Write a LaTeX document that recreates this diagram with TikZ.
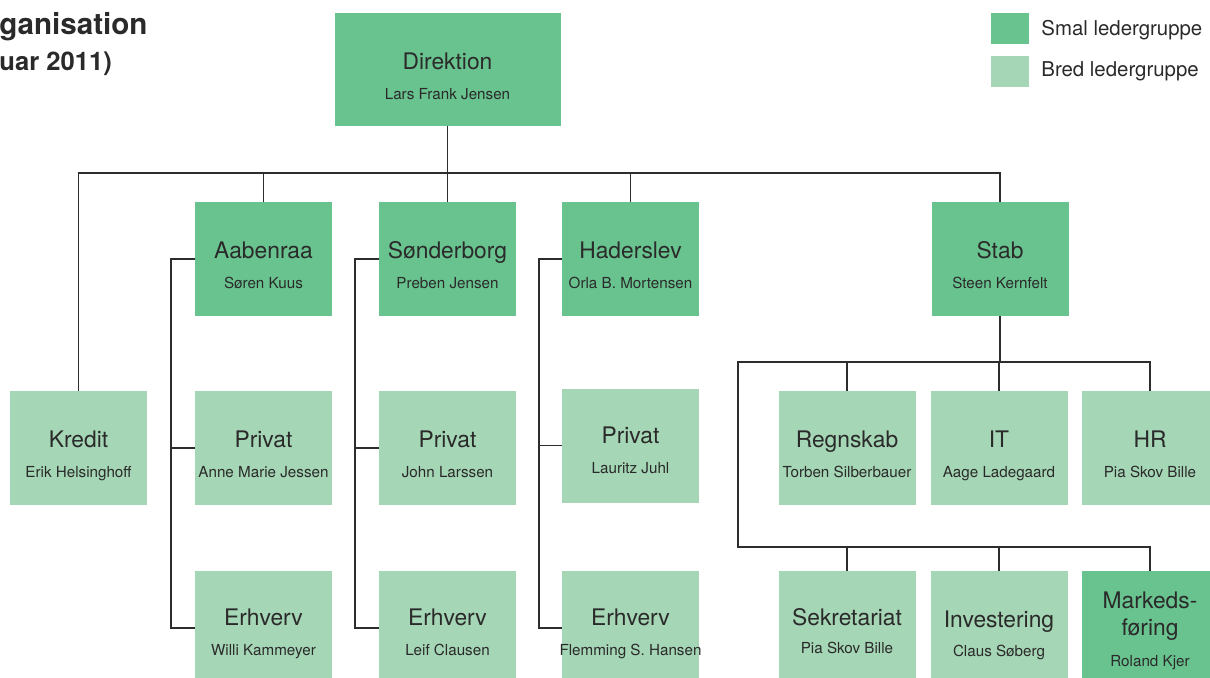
\documentclass[tikz,border=0pt]{standalone}
\usepackage{fontspec}
\setmainfont{TeX Gyre Heros}
\definecolor{smal}{RGB}{105,195,143}
\definecolor{bred}{RGB}{165,214,181}
\definecolor{linegray}{RGB}{45,45,45}
\definecolor{txtgray}{RGB}{42,42,42}
\tikzset{
  box/.style={inner sep=0pt, outer sep=0pt, minimum width=68.5pt, minimum height=57pt},
  smalbox/.style={box, fill=smal},
  bredbox/.style={box, fill=bred},
  ttl/.style={anchor=base, inner sep=0pt, text=txtgray, font=\fontsize{11.4}{13}\selectfont},
  nm/.style={anchor=base, inner sep=0pt, text=txtgray, font=\fontsize{7.6}{9}\selectfont},
  conn/.style={draw=linegray, line width=0.65pt},
}

\begin{document}
\begin{tikzpicture}[x=0.5pt,y=-0.5pt]
\useasboundingbox (0,0) rectangle (1210,677);
\clip (0,0) rectangle (1210,677);
% title and legend
\node[anchor=base west, inner sep=0pt, text=txtgray, font=\bfseries\fontsize{14.8}{17}\selectfont] (title) at (-1,34) {ganisation};
\node[anchor=base west, inner sep=0pt, text=txtgray, font=\bfseries\fontsize{12.8}{15}\selectfont] (subtitle) at (-1,70) {uar 2011)};
\node[fill=smal, inner sep=0pt, minimum width=19pt, minimum height=15.5pt] (legsmal) at (1010,28.5) {};
\node[fill=bred, inner sep=0pt, minimum width=19pt, minimum height=15.5pt] (legbred) at (1010,71.5) {};
\node[anchor=base west, inner sep=0pt, text=txtgray, font=\fontsize{10.2}{12}\selectfont] (legsmal-t) at (1041,35) {Smal ledergruppe};
\node[anchor=base west, inner sep=0pt, text=txtgray, font=\fontsize{10.2}{12}\selectfont] (legbred-t) at (1041,76) {Bred ledergruppe};

% boxes
\node[smalbox, minimum width=113pt, minimum height=56.5pt] (dir) at (447.5,69.5) {};
\node[smalbox] (aab) at (263.5,259) {};
\node[smalbox] (son) at (447.5,259) {};
\node[smalbox] (had) at (630.5,259) {};
\node[smalbox] (stab) at (1000,259) {};
\node[bredbox] (kred) at (78.5,448) {};
\node[bredbox] (aabp) at (263.5,448) {};
\node[bredbox] (sonp) at (447.5,448) {};
\node[bredbox] (hadp) at (630.5,445.5) {};
\node[bredbox] (aabe) at (263.5,628) {};
\node[bredbox] (sone) at (447.5,628) {};
\node[bredbox] (hade) at (630.5,628) {};
\node[bredbox] (regn) at (847,448) {};
\node[bredbox] (it) at (999,448) {};
\node[bredbox] (hr) at (1150,448) {};
\node[bredbox] (sek) at (847,628) {};
\node[bredbox] (inv) at (999,628) {};
\node[smalbox] (mark) at (1150,628) {};

% texts
\node[ttl] (dir-t) at ([yshift=-28pt]dir.north) {Direktion};
\node[nm] (dir-n) at ([yshift=-43pt]dir.north) {Lars Frank Jensen};
\node[ttl] (aab-t) at ([yshift=-28pt]aab.north) {Aabenraa};
\node[nm] (aab-n) at ([yshift=-43pt]aab.north) {Søren Kuus};
\node[ttl] (son-t) at ([yshift=-28pt]son.north) {Sønderborg};
\node[nm] (son-n) at ([yshift=-43pt]son.north) {Preben Jensen};
\node[ttl] (had-t) at ([yshift=-28pt]had.north) {Haderslev};
\node[nm] (had-n) at ([yshift=-43pt]had.north) {Orla B. Mortensen};
\node[ttl] (stab-t) at ([yshift=-28pt]stab.north) {Stab};
\node[nm] (stab-n) at ([yshift=-43pt]stab.north) {Steen Kernfelt};
\node[ttl] (kred-t) at ([yshift=-28pt]kred.north) {Kredit};
\node[nm] (kred-n) at ([yshift=-43pt]kred.north) {Erik Helsinghoff};
\node[ttl] (aabp-t) at ([yshift=-28pt]aabp.north) {Privat};
\node[nm] (aabp-n) at ([yshift=-43pt]aabp.north) {Anne Marie Jessen};
\node[ttl] (sonp-t) at ([yshift=-28pt]sonp.north) {Privat};
\node[nm] (sonp-n) at ([yshift=-43pt]sonp.north) {John Larssen};
\node[ttl] (hadp-t) at ([yshift=-27.5pt]hadp.north) {Privat};
\node[nm] (hadp-n) at ([yshift=-42.5pt]hadp.north) {Lauritz Juhl};
\node[ttl] (aabe-t) at ([yshift=-27pt]aabe.north) {Erhverv};
\node[nm] (aabe-n) at ([yshift=-42pt]aabe.north) {Willi Kammeyer};
\node[ttl] (sone-t) at ([yshift=-27pt]sone.north) {Erhverv};
\node[nm] (sone-n) at ([yshift=-42pt]sone.north) {Leif Clausen};
\node[ttl] (hade-t) at ([yshift=-27pt]hade.north) {Erhverv};
\node[nm] (hade-n) at ([yshift=-42pt]hade.north) {Flemming S. Hansen};
\node[ttl] (regn-t) at ([yshift=-28pt]regn.north) {Regnskab};
\node[nm] (regn-n) at ([yshift=-43pt]regn.north) {Torben Silberbauer};
\node[ttl] (it-t) at ([yshift=-28pt]it.north) {IT};
\node[nm] (it-n) at ([yshift=-43pt]it.north) {Aage Ladegaard};
\node[ttl] (hr-t) at ([yshift=-28pt]hr.north) {HR};
\node[nm] (hr-n) at ([yshift=-43pt]hr.north) {Pia Skov Bille};
\node[ttl] (sek-t) at ([yshift=-27pt]sek.north) {Sekretariat};
\node[nm] (sek-n) at ([yshift=-41pt]sek.north) {Pia Skov Bille};
\node[ttl] (inv-t) at ([yshift=-28pt]inv.north) {Investering};
\node[nm] (inv-n) at ([yshift=-42.5pt]inv.north) {Claus Søberg};
\node[ttl] (mark-t1) at ([yshift=-18.5pt]mark.north) {Markeds-};
\node[ttl] (mark-t2) at ([yshift=-32pt]mark.north) {føring};
\node[nm] (mark-n) at ([yshift=-47.5pt]mark.north) {Roland Kjer};

% connectors
\coordinate (bus) at (448,173);
\coordinate (sb1) at (738,362);
\coordinate (sb2) at (738,547);
\draw[conn] (dir.south) -- (son.north);
\draw[conn] (kred.north) -- (kred.north |- bus) -- (stab.north |- bus) -- (stab.north);
\draw[conn] (aab.north) -- (aab.north |- bus);
\draw[conn] (had.north) -- (had.north |- bus);
\draw[conn] (aab.west) -- ++(-12pt,0) |- (aabe.west);
\draw[conn] (aabp.west) -- ++(-12pt,0);
\draw[conn] (son.west) -- ++(-12pt,0) |- (sone.west);
\draw[conn] (sonp.west) -- ++(-12pt,0);
\draw[conn] (had.west) -- ++(-11.5pt,0) |- (hade.west);
\draw[conn] (hadp.west) -- ++(-11.5pt,0);
\draw[conn] (stab.south) -- (stab.south |- sb1);
\draw[conn] (hr.north) -- (hr.north |- sb1) -- (sb1) -- (sb2) -- (mark.north |- sb2) -- (mark.north);
\draw[conn] (regn.north) -- (regn.north |- sb1);
\draw[conn] (it.north) -- (it.north |- sb1);
\draw[conn] (sek.north) -- (sek.north |- sb2);
\draw[conn] (inv.north) -- (inv.north |- sb2);
\end{tikzpicture}
\end{document}
